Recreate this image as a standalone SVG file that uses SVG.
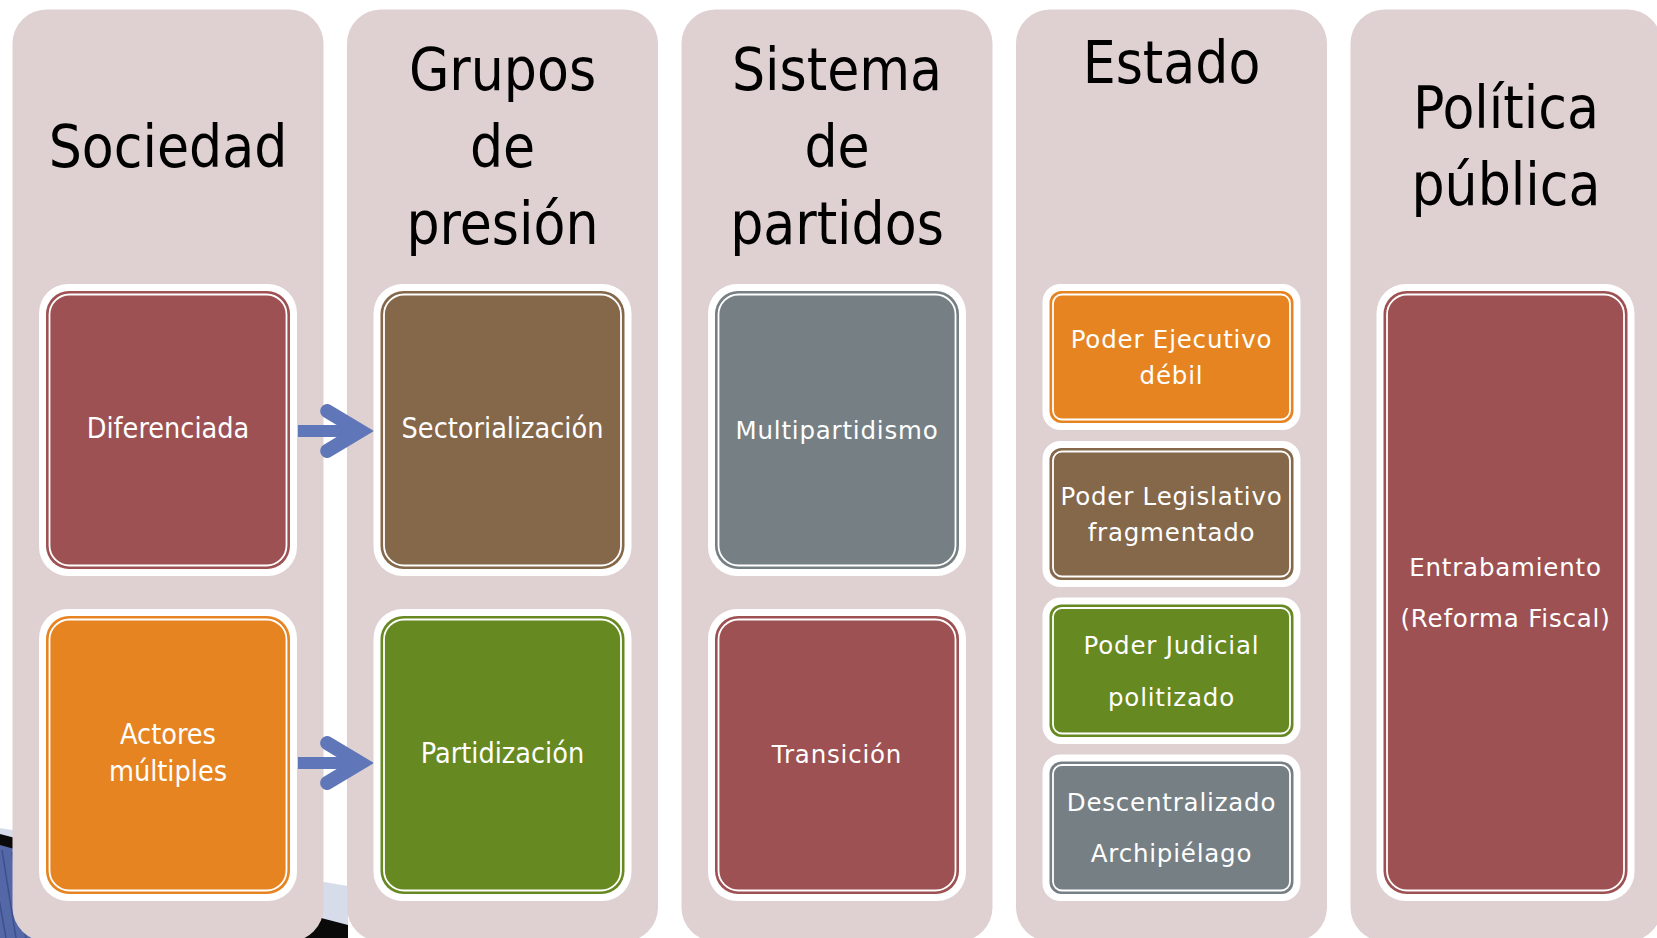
<svg xmlns="http://www.w3.org/2000/svg" width="1657" height="938" viewBox="0 0 1657 938">
<defs>
<style>
.col{fill:#dfd0d1}
.frame{fill:#ffffff}
.inl{fill:none;stroke:#ffffff;stroke-width:1.8}
.title{font-family:'DejaVu Sans Condensed','DejaVu Sans',sans-serif;font-stretch:condensed;font-size:58px;fill:#000000;text-anchor:middle}
.lbc{font-family:'DejaVu Sans Condensed','DejaVu Sans',sans-serif;font-stretch:condensed;font-size:28.5px;fill:#ffffff;text-anchor:middle}
.lbw{font-family:'DejaVu Sans',sans-serif;font-size:24.5px;letter-spacing:0.8px;fill:#ffffff;text-anchor:middle}
.maroon{fill:#9d5153}
.brown{fill:#85674a}
.orange{fill:#e68422}
.green{fill:#678921}
.gray{fill:#768084}
.arrow{fill:#5f76b8}
.stripe{stroke:#3e4f8e;stroke-width:1.5}
</style>
</defs>
<rect x="0" y="0" width="1657" height="938" fill="#ffffff"/>
<g id="background">
<polygon points="0,828 348,886 348,930 0,840" fill="#d6dcea"/>
<polygon points="0,834 348,925 348,938 0,938" fill="#0a0a0a"/>
<polygon points="0,845 120,878 80,938 0,938" fill="#5468a8"/>
<line class="stripe" x1="2" y1="850" x2="16" y2="938"/>
<line class="stripe" x1="-8" y1="860" x2="6" y2="938"/>
<line class="stripe" x1="12" y1="852" x2="26" y2="938"/>
<line class="stripe" x1="22" y1="856" x2="36" y2="938"/>
</g>
<g id="columns">
<rect id="col-sociedad" class="col" x="12.5" y="9.5" width="311" height="932" rx="34"/>
<rect id="col-grupos" class="col" x="347" y="9.5" width="311" height="932" rx="34"/>
<rect id="col-sistema" class="col" x="681.5" y="9.5" width="311" height="932" rx="34"/>
<rect id="col-estado" class="col" x="1016" y="9.5" width="311" height="932" rx="34"/>
<rect id="col-politica" class="col" x="1350.5" y="9.5" width="311" height="932" rx="34"/>
</g>
<g id="titles">
<text class="title" x="168" y="167">Sociedad</text>
<text class="title" x="502.5" y="90">Grupos</text>
<text class="title" x="502.5" y="167">de</text>
<text class="title" x="502.5" y="244">presión</text>
<text class="title" x="837" y="90">Sistema</text>
<text class="title" x="837" y="167">de</text>
<text class="title" x="837" y="244">partidos</text>
<text class="title" x="1171.5" y="83">Estado</text>
<text class="title" x="1506" y="128">Política</text>
<text class="title" x="1506" y="205">pública</text>
</g>
<g id="connectors">
<g id="arrow-diferenciada-sectorializacion">
<rect class="arrow" x="298" y="425" width="54" height="12"/>
<path class="arrow" d="M374,431 L330.6,405 A7,7 0 0 0 323.4,417 L346.6,431 L323.4,445 A7,7 0 0 0 330.6,457 Z"/>
</g>
<g id="arrow-actores-partidizacion">
<rect class="arrow" x="298" y="757" width="54" height="12"/>
<path class="arrow" d="M374,763 L330.6,737 A7,7 0 0 0 323.4,749 L346.6,763 L323.4,777 A7,7 0 0 0 330.6,789 Z"/>
</g>
</g>
<g id="node-diferenciada">
<rect class="frame" x="39" y="284" width="258" height="292" rx="29"/>
<rect class="maroon" x="46" y="291" width="244" height="278" rx="23"/>
<rect class="inl" x="49.5" y="294.5" width="237" height="271" rx="20"/>
<text class="lbc" x="168" y="437.5">Diferenciada</text>
</g>
<g id="node-actores">
<rect class="frame" x="39" y="609" width="258" height="292" rx="29"/>
<rect class="orange" x="46" y="616" width="244" height="278" rx="23"/>
<rect class="inl" x="49.5" y="619.5" width="237" height="271" rx="20"/>
<text class="lbc" x="168" y="744">Actores</text>
<text class="lbc" x="168" y="781">múltiples</text>
</g>
<g id="node-sectorializacion">
<rect class="frame" x="373.5" y="284" width="258" height="292" rx="29"/>
<rect class="brown" x="380.5" y="291" width="244" height="278" rx="23"/>
<rect class="inl" x="384" y="294.5" width="237" height="271" rx="20"/>
<text class="lbc" x="502.5" y="437.5">Sectorialización</text>
</g>
<g id="node-partidizacion">
<rect class="frame" x="373.5" y="609" width="258" height="292" rx="29"/>
<rect class="green" x="380.5" y="616" width="244" height="278" rx="23"/>
<rect class="inl" x="384" y="619.5" width="237" height="271" rx="20"/>
<text class="lbc" x="502.5" y="763">Partidización</text>
</g>
<g id="node-multipartidismo">
<rect class="frame" x="708" y="284" width="258" height="292" rx="29"/>
<rect class="gray" x="715" y="291" width="244" height="278" rx="23"/>
<rect class="inl" x="718.5" y="294.5" width="237" height="271" rx="20"/>
<text class="lbw" x="837" y="438.5">Multipartidismo</text>
</g>
<g id="node-transicion">
<rect class="frame" x="708" y="609" width="258" height="292" rx="29"/>
<rect class="maroon" x="715" y="616" width="244" height="278" rx="23"/>
<rect class="inl" x="718.5" y="619.5" width="237" height="271" rx="20"/>
<text class="lbw" x="837" y="763">Transición</text>
</g>
<g id="node-ejecutivo">
<rect class="frame" x="1042.5" y="284" width="258" height="146" rx="18"/>
<rect class="orange" x="1049.5" y="291" width="244" height="132" rx="12"/>
<rect class="inl" x="1053" y="294.5" width="237" height="125" rx="9"/>
<text class="lbw" x="1171.5" y="347.5">Poder Ejecutivo</text>
<text class="lbw" x="1171.5" y="384">débil</text>
</g>
<g id="node-legislativo">
<rect class="frame" x="1042.5" y="441" width="258" height="146" rx="18"/>
<rect class="brown" x="1049.5" y="448" width="244" height="132" rx="12"/>
<rect class="inl" x="1053" y="451.5" width="237" height="125" rx="9"/>
<text class="lbw" x="1171.5" y="504.5">Poder Legislativo</text>
<text class="lbw" x="1171.5" y="540.5">fragmentado</text>
</g>
<g id="node-judicial">
<rect class="frame" x="1042.5" y="597.5" width="258" height="146.5" rx="18"/>
<rect class="green" x="1049.5" y="604.5" width="244" height="132.5" rx="12"/>
<rect class="inl" x="1053" y="608" width="237" height="125.5" rx="9"/>
<text class="lbw" x="1171.5" y="653.5">Poder Judicial</text>
<text class="lbw" x="1171.5" y="705.5">politizado</text>
</g>
<g id="node-descentralizado">
<rect class="frame" x="1042.5" y="754.5" width="258" height="146.5" rx="18"/>
<rect class="gray" x="1049.5" y="761.5" width="244" height="132.5" rx="12"/>
<rect class="inl" x="1053" y="765" width="237" height="125.5" rx="9"/>
<text class="lbw" x="1171.5" y="811">Descentralizado</text>
<text class="lbw" x="1171.5" y="862">Archipiélago</text>
</g>
<g id="node-entrabamiento">
<rect class="frame" x="1376.5" y="284" width="258" height="617" rx="29"/>
<rect class="maroon" x="1383.5" y="291" width="244" height="603" rx="23"/>
<rect class="inl" x="1387" y="294.5" width="237" height="596" rx="20"/>
<text class="lbw" x="1505.5" y="575.5">Entrabamiento</text>
<text class="lbw" x="1505.5" y="626.5">(Reforma Fiscal)</text>
</g>
</svg>
